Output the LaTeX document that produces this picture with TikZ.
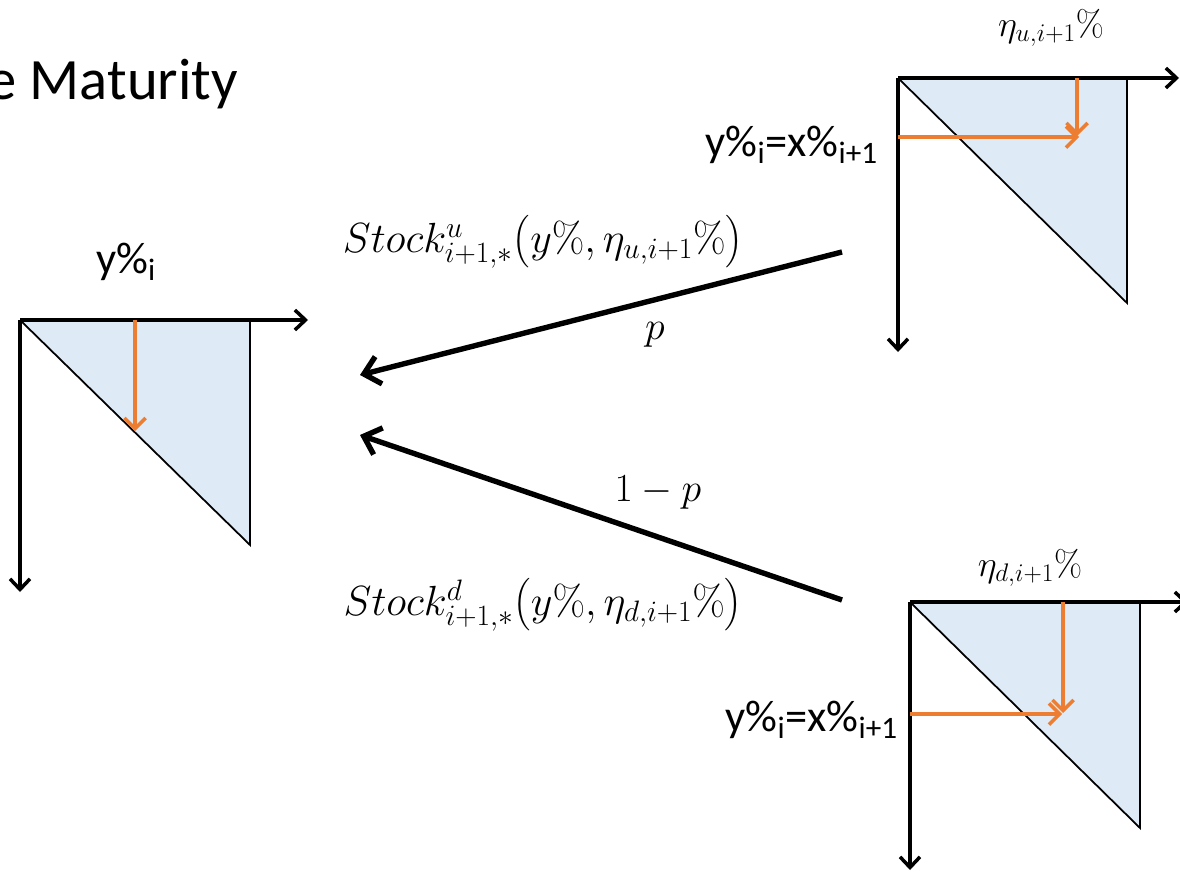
\RequirePackage{fix-cm}
\documentclass[tikz,border=0pt]{standalone}
\usepackage{amsmath}
\usepackage[no-math]{fontspec}
\setmainfont{Carlito}
\usepackage{tikz}
\usetikzlibrary{arrows.meta}
\definecolor{paleblue}{HTML}{DEEBF7}
\definecolor{flowcol}{HTML}{ED7D31}
\tikzset{
  axis/.style={line width=3pt, -{Straight Barb[length=9pt,width=17pt]}},
  edge/.style={line width=1.5pt},
  flow/.style={flowcol, line width=3pt, -{Straight Barb[length=9pt,width=18pt]}},
  branch/.style={line width=4.6pt, -{Straight Barb[length=13pt,width=24pt]}},
  txt/.style={inner sep=0pt, font=\fontsize{38}{42}\selectfont},
  mth/.style={inner sep=0pt, font=\fontsize{34}{40}\selectfont}
}
\begin{document}
\begin{tikzpicture}[x=0.03cm, y=-0.03cm]
  \useasboundingbox (0,0) rectangle (1180,875);
  \clip (0,0) rectangle (1180,875);
  % title
  \node[inner sep=0pt, anchor=base east, font=\fontsize{50}{54}\selectfont] (title) at (238,100) {e Maturity};
  % left diagram
  \coordinate (o1) at (20,320);
  \fill[paleblue] (o1) -- ++(230,0) -- ++(0,225) -- cycle;
  \draw[edge] (o1) -- ++(230,225) -- ++(0,-225);
  \draw[axis] (o1) -- (308,320);
  \draw[axis] (o1) -- (20,592);
  \coordinate (v1) at (135,320);
  \coordinate (v1end) at (135,431);
  \draw[flow] (v1) -- (v1end);
  \node[txt] (ylab) at (126,262) {y\%\textsubscript{i}};
  % upper right diagram
  \coordinate (o2) at (898,78);
  \fill[paleblue] (o2) -- ++(229,0) -- ++(0,225) -- cycle;
  \draw[edge] (o2) -- ++(229,225) -- ++(0,-225);
  \draw[axis] (o2) -- (1179,78);
  \draw[axis] (o2) -- (898,352);
  \coordinate (v2) at (1077,78);
  \coordinate (v2end) at (1077,136);
  \coordinate (h2) at (898,137);
  \coordinate (h2end) at (1079,137);
  \draw[flow] (v2) -- (v2end);
  \draw[flow] (h2) -- (h2end);
  \node[mth, font=\fontsize{31}{36}\selectfont] (etau) at (1051,28) {$\eta_{u,i+1}\%$};
  \node[txt, anchor=east] (eqtop) at (878,145) {y\%\textsubscript{i}=x\%\textsubscript{i+1}};
  % lower right diagram
  \coordinate (o3) at (910,602);
  \fill[paleblue] (o3) -- ++(230,0) -- ++(0,226) -- cycle;
  \draw[edge] (o3) -- ++(230,226) -- ++(0,-226);
  \draw[axis] (o3) -- (1188,602);
  \draw[axis] (o3) -- (910,870);
  \coordinate (v3) at (1063,602);
  \coordinate (v3end) at (1063,713);
  \coordinate (h3) at (910,714);
  \coordinate (h3end) at (1062,714);
  \draw[flow] (v3) -- (v3end);
  \draw[flow] (h3) -- (h3end);
  \node[mth, font=\fontsize{31}{36}\selectfont] (etad) at (1030,568) {$\eta_{d,i+1}\%$};
  \node[txt, anchor=east] (eqbot) at (898,720) {y\%\textsubscript{i}=x\%\textsubscript{i+1}};
  % branches
  \coordinate (ufrom) at (842,252);
  \coordinate (uto) at (360,375);
  \coordinate (dfrom) at (842,600);
  \coordinate (dto) at (360,435);
  \draw[branch] (ufrom) -- (uto);
  \draw[branch] (dfrom) -- (dto);
  \node[mth, font=\fontsize{36}{42}\selectfont] (stocku) at (543,242) {$Stock^{u}_{i+1,*}\bigl(y\%,\eta_{u,i+1}\%\bigr)$};
  \node[mth] (pu) at (655,335) {$p$};
  \node[mth] (pd) at (658,493) {$1-p$};
  \node[mth, font=\fontsize{36}{42}\selectfont] (stockd) at (543,605) {$Stock^{d}_{i+1,*}\bigl(y\%,\eta_{d,i+1}\%\bigr)$};
\end{tikzpicture}
\end{document}
